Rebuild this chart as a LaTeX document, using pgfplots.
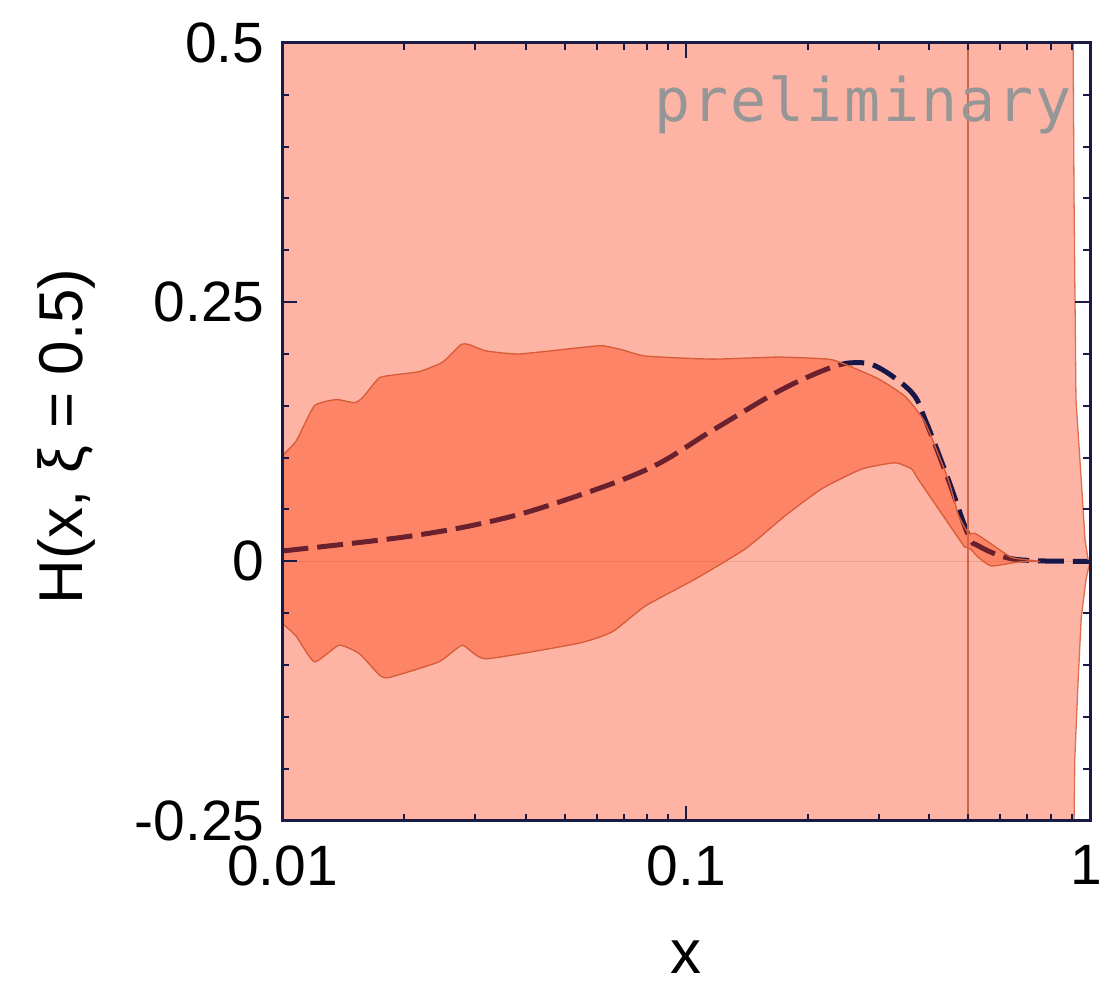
\documentclass[border=0pt]{standalone}
\usepackage{fontspec}
\setmainfont{Liberation Sans}
\newfontfamily\monofont[LetterSpace=3.5]{DejaVu Sans Mono}
\usepackage{pgfplots}
\pgfplotsset{compat=1.18}
\definecolor{lightband}{RGB}{254,180,164}
\definecolor{darkband}{RGB}{255,52,0}
\definecolor{bandedge}{RGB}{214,92,56}
\definecolor{vline}{RGB}{208,100,74}
\definecolor{navyline}{RGB}{22,22,72}
\definecolor{axnavy}{RGB}{26,26,70}
\definecolor{zeroline}{RGB}{238,160,140}
\definecolor{prelim}{RGB}{150,150,150}
\begin{document}
\begin{tikzpicture}
\begin{axis}[
  name=ax,
  scale only axis,
  width=809pt, height=779pt,
  xmode=log,
  xmin=0.01, xmax=1,
  ymin=-0.25, ymax=0.5,
  axis on top,
  xtick={0.01,0.1,1},
  xticklabels={0.01,0.1,\kern-12pt 1\kern-4pt},
  minor xtick={0.02,0.03,0.04,0.05,0.06,0.07,0.08,0.09,0.2,0.3,0.4,0.5,0.6,0.7,0.8,0.9},
  ytick={-0.25,0,0.25,0.5},
  yticklabels={-0.25,0,0.25,0.5},
  minor ytick={-0.2,-0.15,-0.1,-0.05,0.05,0.1,0.15,0.2,0.3,0.35,0.4,0.45},
  tick align=inside,
  major tick length=15pt,
  minor tick length=7pt,
  every tick/.style={line width=2pt, color=axnavy},
  axis line style={line width=3pt, color=axnavy},
  every tick label/.append style={font=\fontsize{57}{60}\selectfont, inner sep=0pt},
  xticklabel shift=25pt,
  yticklabel shift=18pt,
  xlabel={x},
  ylabel={H(x, ξ = 0.5)},
  label style={font=\fontsize{62}{66}\selectfont, inner sep=0pt},
  xlabel style={at={(axis description cs:0.5,0)}, anchor=base, yshift=-153pt},
  ylabel style={at={(axis description cs:-0.2472,0.494)}, anchor=base},
]
% light (outer) band
\addplot[fill=lightband, draw=none] coordinates {
 (0.009,0.6) (0.905,0.6) (0.908,0.5) (0.913,0.349) (0.923,0.156) (0.951,0.079)
 (0.972,0.021) (0.989,0.002) (1,0) (0.978,-0.017) (0.951,-0.055) (0.935,-0.113)
 (0.917,-0.19) (0.913,-0.25) (0.911,-0.35) (0.009,-0.35)} -- cycle;
% zero line
\addplot[color=zeroline, line width=1pt] coordinates {(0.01,0) (1,0)};
% central curve
\addplot[color=navyline, line width=5pt, dash pattern=on 26pt off 9pt, smooth, tension=0.6] coordinates {
 (0.01,0.010) (0.01437,0.0167) (0.0210,0.0246) (0.0307,0.036) (0.0449,0.053)
 (0.0793,0.088) (0.1158,0.126) (0.1693,0.164) (0.2251,0.186)
 (0.2620,0.1916) (0.2992,0.187) (0.3616,0.163) (0.3903,0.137) (0.4456,0.079)
 (0.5,0.025) (0.5286,0.015) (0.6152,0.004) (0.7297,0.0006) (1.0,0)};
% inner band
\addplot[fill=darkband, fill opacity=0.37, draw=bandedge, line width=1.3pt, smooth, tension=0.3] coordinates {
 (0.0100,0.102) (0.01081,0.116) (0.0120,0.150) (0.01358,0.156) (0.01507,0.153)
 (0.01580,0.158) (0.01737,0.177) (0.0191,0.180) (0.0218,0.183) (0.0249,0.192)
 (0.02766,0.209) (0.0290,0.209) (0.0319,0.203) (0.0385,0.200) (0.0542,0.206)
 (0.0619,0.208) (0.0694,0.204) (0.0793,0.198) (0.1158,0.195) (0.1693,0.197)
 (0.2251,0.195) (0.2475,0.190) (0.2992,0.176) (0.3484,0.159) (0.3903,0.134)
 (0.4456,0.079) (0.4718,0.045) (0.5,0.027) (0.5187,0.027) (0.549,0.021)
 (0.6379,0.004) (0.7297,0.0006) (0.745,0)
 (0.6637,-0.0007) (0.5693,-0.0045) (0.5286,0.004) (0.505,0.012) (0.4882,0.014)
 (0.4806,0.018) (0.3757,0.079) (0.3616,0.089) (0.3290,0.095) (0.2721,0.089)
 (0.2166,0.070) (0.1759,0.044) (0.1401,0.012) (0.1054,-0.017) (0.0793,-0.043)
 (0.0656,-0.068) (0.0542,-0.079) (0.0319,-0.094) (0.0279,-0.081) (0.0244,-0.097)
 (0.0184,-0.112) (0.0174,-0.110) (0.0155,-0.089) (0.0138,-0.081) (0.0120,-0.097)
 (0.0108,-0.072) (0.0100,-0.060)} -- cycle;
% vertical line at x = 0.5
\addplot[color=vline, line width=2pt] coordinates {(0.5,-0.3) (0.5,0.6)};
% right edge of outer band
\addplot[color=bandedge!80!lightband, line width=1.3pt] coordinates {
 (0.905,0.6) (0.908,0.5) (0.913,0.349) (0.923,0.156) (0.951,0.079)
 (0.972,0.021) (0.989,0.002) (1,0) (0.978,-0.017) (0.951,-0.055) (0.935,-0.113)
 (0.917,-0.19) (0.913,-0.25) (0.911,-0.35)};
\node[anchor=base west, inner sep=0pt, text=prelim, font=\monofont\fontsize{60}{64}\selectfont]
  at (rel axis cs:0.4600,0.8986) {preliminary};
\end{axis}
\pgfresetboundingbox
\path[use as bounding box] ([shift={(-283pt,-172pt)}]ax.south west) rectangle ([shift={(12pt,43pt)}]ax.north east);
\end{tikzpicture}
\end{document}
